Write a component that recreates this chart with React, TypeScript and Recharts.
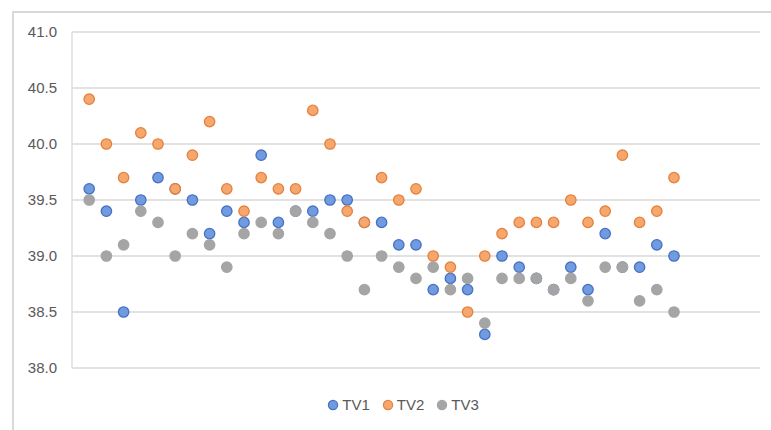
import React from "react";
import { ScatterChart, Scatter, XAxis, YAxis, CartesianGrid, Legend } from "recharts";

// sample index along the horizontal axis (1..35)
const samples = [
    1, 2, 3, 4, 5, 6, 7, 8, 9, 10, 11, 12, 13, 14, 15, 16, 17, 18,
    19, 20, 21, 22, 23, 24, 25, 26, 27, 28, 29, 30, 31, 32, 33, 34, 35,
];

const tv1 = [
    39.6, 39.4, 38.5, 39.5, 39.7, 39.6, 39.5, 39.2, 39.4, 39.3, 39.9, 39.3,
    39.4, 39.4, 39.5, 39.5, 39.3, 39.3, 39.1, 39.1, 38.7, 38.8, 38.7, 38.3,
    39.0, 38.9, 38.8, 38.7, 38.9, 38.7, 39.2, 38.9, 38.9, 39.1, 39.0,
];
const tv2 = [
    40.4, 40.0, 39.7, 40.1, 40.0, 39.6, 39.9, 40.2, 39.6, 39.4, 39.7, 39.6,
    39.6, 40.3, 40.0, 39.4, 39.3, 39.7, 39.5, 39.6, 39.0, 38.9, 38.5, 39.0,
    39.2, 39.3, 39.3, 39.3, 39.5, 39.3, 39.4, 39.9, 39.3, 39.4, 39.7,
];
const tv3 = [
    39.5, 39.0, 39.1, 39.4, 39.3, 39.0, 39.2, 39.1, 38.9, 39.2, 39.3, 39.2,
    39.4, 39.3, 39.2, 39.0, 38.7, 39.0, 38.9, 38.8, 38.9, 38.7, 38.8, 38.4,
    38.8, 38.8, 38.8, 38.7, 38.8, 38.6, 38.9, 38.9, 38.6, 38.7, 38.5,
];

const yTicks = [38.0, 38.5, 39.0, 39.5, 40.0, 40.5, 41.0];

const series = [
    { name: "TV1", values: tv1, fill: "#729ADF", stroke: "#4472C4" },
    { name: "TV2", values: tv2, fill: "#F5A86E", stroke: "#E6803C" },
    { name: "TV3", values: tv3, fill: "#A5A5A5", stroke: "#A5A5A5" },
];

const toPoints = (values: number[]) => samples.map((x, i) => ({ x, y: values[i] }));

const dot = (fill: string, stroke: string) => (props: any) => (
    <circle cx={props.cx} cy={props.cy} r={5.2} fill={fill} stroke={stroke} strokeWidth={1.3} />
);

const font = "'Liberation Sans', Arial, sans-serif";

const LegendBox = () => (
    <div style={{ display: "flex", justifyContent: "center", paddingLeft: 46, fontFamily: font, fontSize: 15, color: "#595959" }}>
        {series.map((s) => (
            <div key={s.name} style={{ display: "flex", alignItems: "center", marginRight: 12 }}>
                <svg width={12} height={12} style={{ marginRight: 3 }}>
                    <circle cx={6} cy={6} r={4.6} fill={s.fill} stroke={s.stroke} strokeWidth={1.2} />
                </svg>
                <span>{s.name}</span>
            </div>
        ))}
    </div>
);

export default function App() {
    return (
        <div style={{ position: "absolute", left: 0, top: 0, width: 771, height: 430, background: "#fff", overflow: "hidden" }}>
            <div style={{ position: "absolute", left: 12, top: 11, width: 800, height: 440, borderTop: "2px solid #D9D9D9", borderLeft: "2px solid #D9D9D9" }} />
            <ScatterChart width={771} height={430} margin={{ top: 32, right: 11, bottom: 42, left: 12 }}>
                <CartesianGrid vertical={false} stroke="#D9D9D9" strokeWidth={1.3} />
                <XAxis type="number" dataKey="x" domain={[0, 40]} hide />
                <YAxis
                    type="number"
                    dataKey="y"
                    domain={[38, 41]}
                    ticks={yTicks}
                    tickFormatter={(v: number) => v.toFixed(1)}
                    width={60}
                    axisLine={{ stroke: "#D9D9D9", strokeWidth: 1.3 }}
                    tickLine={false}
                    tickMargin={9}
                    tick={{ fill: "#595959", fontSize: 15, fontFamily: font }}
                />
                <Legend verticalAlign="bottom" height={20} wrapperStyle={{ top: 396 }} content={() => <LegendBox />} />
                {series.map((s) => (
                    <Scatter
                        key={s.name}
                        name={s.name}
                        data={toPoints(s.values)}
                        fill={s.fill}
                        shape={dot(s.fill, s.stroke)}
                        isAnimationActive={false}
                    />
                ))}
            </ScatterChart>
        </div>
    );
}
